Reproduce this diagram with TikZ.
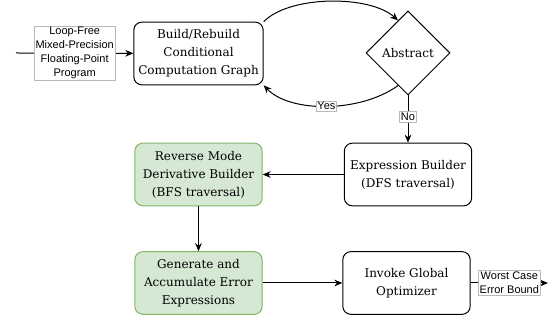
\documentclass[tikz,border=0pt]{standalone}
\usepackage{fontspec}
\setmainfont{DejaVu Serif}
\newfontfamily\labelfont{Liberation Sans}
\usetikzlibrary{arrows.meta, shapes.geometric}
\definecolor{boxgreen}{RGB}{213,232,212}
\definecolor{edgegreen}{RGB}{130,179,102}

\begin{document}
\begin{tikzpicture}[x=0.75pt, y=0.75pt, >={Stealth[length=6pt,width=5pt]}, line width=0.75pt,
  stepbox/.style={draw, rounded corners=6pt, minimum width=95.5pt, minimum height=47pt,
    align=center, font=\fontsize{9}{13.5}\selectfont},
  greenbox/.style={stepbox, fill=boxgreen, draw=edgegreen},
  tag/.style={draw=gray!55, fill=white, line width=0.5pt, inner sep=1pt, align=center,
    font=\labelfont\fontsize{8.25}{10.5}\selectfont}]
  \useasboundingbox (0,0) rectangle (549,320);

  % Steps of the flow
  \node[stepbox] (build) at (198.5,266.5) {Build/Rebuild\\Conditional\\Computation Graph};
  \node[draw, diamond, aspect=1, inner sep=0pt, minimum size=63pt,
    font=\fontsize{9}{13.5}\selectfont] (abstract) at (408,267) {Abstract};
  \node[stepbox] (expr) at (408,145.5) {Expression Builder\\(DFS traversal)};
  \node[greenbox] (rmd) at (198.5,145.5) {Reverse Mode\\Derivative Builder\\(BFS traversal)};
  \node[greenbox] (gen) at (198.5,37) {Generate and\\Accumulate Error\\Expressions};
  \node[stepbox] (opt) at (406.5,37) {Invoke Global\\Optimizer};

  % Free ends of the input and output arrows
  \coordinate (in) at (16,267);
  \coordinate (out) at (548,37);

  % Connectors
  \draw[->] (in) -- node[tag] {Loop-Free\\Mixed-Precision\\Floating-Point\\Program} (build);
  \draw[->] (build.north east) .. controls (290,325) and (370,325) .. (abstract.107);
  \draw[->] (abstract.253) .. controls (360,207) and (290,207) .. node[tag] {Yes} (build.south east);
  \draw[->] (abstract) -- node[tag, pos=0.45] {No} (expr);
  \draw[->] (expr) -- (rmd);
  \draw[->] (rmd) -- (gen);
  \draw[->] (gen) -- (opt);
  \draw[->] (opt) -- node[tag] {Worst Case\\Error Bound} (out);
\end{tikzpicture}
\end{document}
